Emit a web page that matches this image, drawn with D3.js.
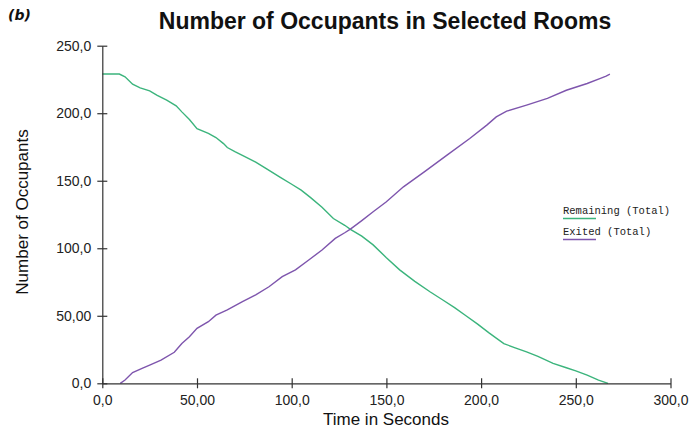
<!DOCTYPE html>
<html>
<head>
<meta charset="utf-8">
<script src="https://cdn.jsdelivr.net/npm/d3@7"></script>
<style>
  html, body { margin: 0; padding: 0; background: #fff; }
  svg { display: block; }
</style>
</head>
<body>
<svg id="chart" width="696" height="432"></svg>
<script>
// ---- data ----
const xTickValues = [0, 50, 100, 150, 200, 250, 300];
const xTickLabels = ["0,0", "50,00", "100,0", "150,0", "200,0", "250,0", "300,0"];
const yTickValues = [0, 50, 100, 150, 200, 250];
const yTickLabels = ["0,0", "50,00", "100,0", "150,0", "200,0", "250,0"];

const remainingTimes = [0, 9, 12, 16, 20, 25, 29, 34, 39, 42, 46, 50, 56, 60, 64, 66, 70, 75, 81, 87, 94, 100, 105, 110, 116, 122, 128, 131, 137, 143, 150, 157, 165, 173, 180, 186, 192, 198, 204, 208, 212, 218, 224, 230, 238, 245, 250, 256, 262, 267];
const remainingValues = [229, 229, 227, 221.5, 218.8, 216.5, 213.2, 209.7, 205.5, 201, 195.3, 188.5, 185, 182, 177.5, 174.6, 171.5, 168, 163.8, 158.6, 152.5, 147.4, 143, 137.5, 130.3, 122, 117, 114, 109, 102.5, 93, 84, 75.5, 67.8, 61.5, 56, 50, 44, 37.5, 33.5, 29.4, 26.3, 23.3, 20, 14.8, 11.5, 9.2, 6, 2.4, 0];

const exitedTimes = [9.5, 12, 16, 21, 25, 31, 38, 42, 46, 50, 56, 60, 66, 74, 81, 88, 95, 102, 109, 116, 123, 128, 131, 137, 143, 150, 159, 170, 182, 194, 203, 208, 213.5, 224, 235, 245, 256, 263, 266, 268];
const exitedValues = [0, 2.4, 8, 11, 13.5, 17.2, 23, 29.5, 34.5, 40.7, 45.6, 50.5, 54.3, 60.5, 65.5, 71.5, 79, 84, 91.3, 98.7, 107.3, 111.5, 114.2, 120.5, 127, 134.4, 145.5, 156.6, 169, 181.3, 191.2, 197.3, 201.5, 206, 211, 217, 222, 225.8, 227.5, 228.9];

const seriesNames = ["Remaining (Total)", "Exited (Total)"];
const seriesColors = ["#3bb47c", "#7e55ad"];

// ---- layout ----
const svg = d3.select("#chart");
const x = d3.scaleLinear().domain([0, 300]).range([102.3, 670.5]);
const y = d3.scaleLinear().domain([0, 250]).range([383.3, 45.7]);

const axisColor = "#333";
const labelFont = "'Liberation Sans', Arial, sans-serif";

// Title
svg.append("text")
  .attr("x", 385).attr("y", 29)
  .attr("text-anchor", "middle")
  .style("font-family", labelFont)
  .style("font-weight", "bold")
  .style("font-size", "23px")
  .attr("fill", "#111")
  .text("Number of Occupants in Selected Rooms");

// Panel label
svg.append("text")
  .attr("x", 8).attr("y", 20)
  .style("font-family", "'DejaVu Sans', sans-serif")
  .style("font-weight", "bold")
  .style("font-style", "italic")
  .style("font-size", "14px")
  .attr("fill", "#111")
  .text("(b)");

// Lines
const remainingData = remainingTimes.map((t, i) => ({t, v: remainingValues[i]}));
const exitedData = exitedTimes.map((t, i) => ({t, v: exitedValues[i]}));
const line = d3.line().x(d => x(d.t)).y(d => y(d.v));

svg.append("path").datum(remainingData)
  .attr("d", line).attr("fill", "none")
  .attr("stroke", seriesColors[0]).attr("stroke-width", 1.4);
svg.append("path").datum(exitedData)
  .attr("d", line).attr("fill", "none")
  .attr("stroke", seriesColors[1]).attr("stroke-width", 1.4);

// Axes
const yAxis = svg.append("g")
  .attr("transform", `translate(${x(0)},0)`)
  .call(d3.axisLeft(y).tickValues(yTickValues).tickSizeInner(5).tickSizeOuter(0).tickPadding(6)
    .tickFormat((d, i) => yTickLabels[i]));
yAxis.selectAll(".tick line").attr("x1", 5);

const xAxis = svg.append("g")
  .attr("transform", `translate(0,${y(0)})`)
  .call(d3.axisBottom(x).tickValues(xTickValues).tickSizeInner(5).tickSizeOuter(0).tickPadding(7)
    .tickFormat((d, i) => xTickLabels[i]));
xAxis.selectAll(".tick line").attr("y1", -5);

[yAxis, xAxis].forEach(g => {
  g.select(".domain").attr("stroke", axisColor).attr("stroke-width", 1.2);
  g.selectAll(".tick line").attr("stroke", axisColor).attr("stroke-width", 1.2);
  g.selectAll(".tick text")
    .style("font-family", labelFont)
    .style("font-size", "14px")
    .attr("fill", "#222");
});

// Axis titles
svg.append("text")
  .attr("x", 386).attr("y", 425)
  .attr("text-anchor", "middle")
  .style("font-family", labelFont)
  .style("font-size", "17px")
  .attr("fill", "#111")
  .text("Time in Seconds");

svg.append("text")
  .attr("transform", "translate(28,212) rotate(-90)")
  .attr("text-anchor", "middle")
  .style("font-family", labelFont)
  .style("font-size", "17px")
  .attr("fill", "#111")
  .text("Number of Occupants");

// Legend
const legend = svg.append("g").attr("transform", "translate(563,0)");
seriesNames.forEach((name, i) => {
  const baseY = 214 + i * 21;
  legend.append("text")
    .attr("x", 0).attr("y", baseY)
    .style("font-family", "'Liberation Mono', 'Courier New', monospace")
    .style("font-size", "10.5px")
    .attr("fill", "#222")
    .text(name);
  legend.append("line")
    .attr("x1", 0).attr("x2", 33)
    .attr("y1", baseY + 4.5).attr("y2", baseY + 4.5)
    .attr("stroke", seriesColors[i]).attr("stroke-width", 1.6);
});
</script>
</body>
</html>
